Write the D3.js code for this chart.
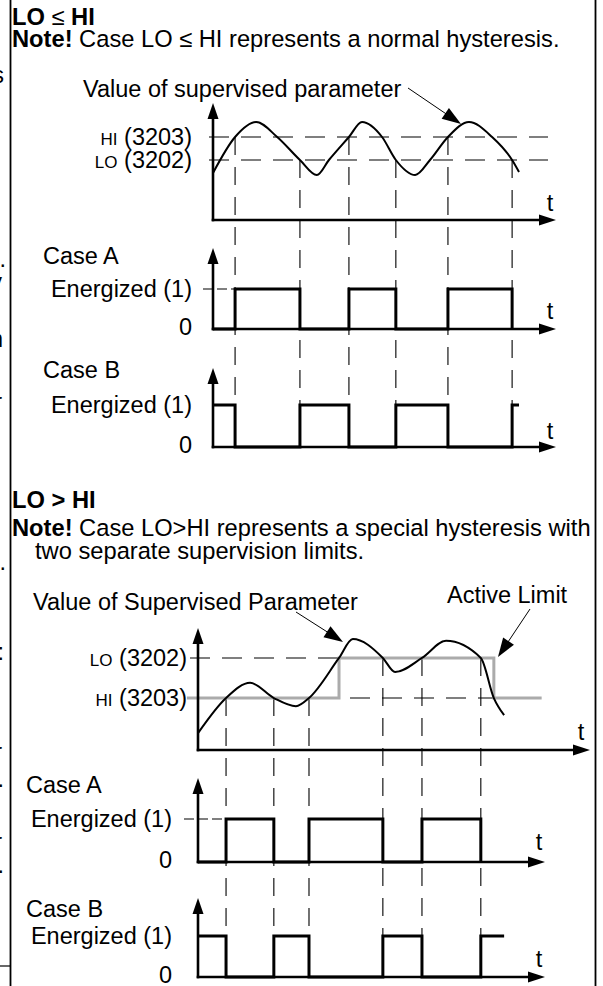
<!DOCTYPE html>
<html>
<head>
<meta charset="utf-8">
<script src="https://cdn.jsdelivr.net/npm/d3@7"></script>
<style>
  html, body { margin: 0; padding: 0; background: #fff; }
  svg { display: block; }
  text { font-family: "Liberation Sans", Arial, Helvetica, sans-serif; fill: #000; }
</style>
</head>
<body>
<svg id="chart" width="603" height="986"></svg>
<script>
// ---------------------------------------------------------------
// Relay output supervision: LO ≤ HI (normal hysteresis) and
// LO > HI (two separate supervision limits).
// Time runs 0..100 along each time axis, values 0..100 on the
// value axis; relay states are 0 / 1.
// ---------------------------------------------------------------

// ---- LO ≤ HI ----
const normalLimits = { HI: 83, LO: 60 };
const normalTime   = [0, 6.4, 12.5, 18.6, 25.2, 30.1, 33.6, 39.4, 43.2, 49.0, 53.0, 58.6, 62.9, 68.1, 74.2, 80.9, 86.7, 88.7];
const normalValue  = [47, 83, 98, 83, 60, 45, 60, 83, 98, 83, 60, 45, 60, 83, 98, 83, 60, 48];
const normalSwitch = [6.4, 25.2, 39.4, 53.0, 68.1, 86.7];          // relay switching instants
const normalSwitchLimit = ["HI", "LO", "HI", "LO", "HI", "LO"];   // limit crossed at each instant
const normalCaseA  = [0, 1, 0, 1, 0, 1, 0];                        // state before / after each switch
const normalCaseB  = [1, 0, 1, 0, 1, 0, 1];
const normalCaseBEnd = 88.7;

// ---- LO > HI ----
const specialLimits = { LO: 76.7, HI: 43.3 };
const specialTime   = [0, 7.1, 13.2, 19.2, 24.8, 28.1, 35.7, 39.2, 46.8, 49.9, 56.7, 62.8, 71.6, 74.9, 77.5];
const specialValue  = [14, 43.3, 56, 43.3, 36.5, 43.3, 76.7, 92.5, 76.7, 65, 76.7, 91, 76.7, 43.3, 29];
const specialSwitch = [7.1, 19.2, 28.1, 46.8, 56.7, 71.6];
const specialSwitchLimit = ["HI", "HI", "HI", "LO", "LO", "LO"];
const specialCaseA  = [0, 1, 0, 1, 0, 1, 0];
const specialCaseB  = [1, 0, 1, 0, 1, 0, 1];
const specialCaseBEnd = 77.5;
// active limit: [time, limit name]
const activeLimitTime  = [-2.8, 35.7, 74.9, 87];
const activeLimitLevel = ["HI", "LO", "HI", "HI"];

// ---------------------------------------------------------------
const svg = d3.select("#chart");
const FS = 23.5;      // labels
const FS_NOTE = 23.7; // headings and notes
const BLACK = "#000";
const GREY = "#ababab";

// Scales, LO ≤ HI block
const x1  = d3.scaleLinear().domain([0, 100]).range([213, 558]);
const yV1 = d3.scaleLinear().domain([0, 100]).range([220, 120]);
const yA1 = d3.scaleLinear().domain([0, 1]).range([329, 289]);
const yB1 = d3.scaleLinear().domain([0, 1]).range([447, 405]);

// Scales, LO > HI block
const x2  = d3.scaleLinear().domain([0, 100]).range([198, 593]);
const yV2 = d3.scaleLinear().domain([0, 100]).range([750, 630]);
const yA2 = d3.scaleLinear().domain([0, 1]).range([862, 819]);
const yB2 = d3.scaleLinear().domain([0, 1]).range([977, 936]);

// ---- helpers ----
function arrowHead(g, tipX, tipY, dx, dy, len, half) {
  const n = Math.hypot(dx, dy), ux = dx / n, uy = dy / n;
  const bx = tipX - ux * len, by = tipY - uy * len;
  const px = -uy, py = ux;
  g.append("path")
    .attr("d", `M${tipX},${tipY}L${bx + px * half},${by + py * half}L${bx - px * half},${by - py * half}Z`)
    .attr("fill", BLACK);
}

function axes(g, x, y, topY, tipX) {
  const x0 = x(0), y0 = y(0);
  g.append("line").attr("x1", x0).attr("x2", x0).attr("y1", y0 + 1.3).attr("y2", topY + 12)
    .attr("stroke", BLACK).attr("stroke-width", 2.6);
  arrowHead(g, x0, topY, 0, -1, 16, 5.5);
  g.append("line").attr("x1", x0 - 1.3).attr("x2", tipX - 12).attr("y1", y0).attr("y2", y0)
    .attr("stroke", BLACK).attr("stroke-width", 2.6);
  arrowHead(g, tipX, y0, 1, 0, 17, 5.5);
}

function label(g, txt, x, y, anchor) {
  return g.append("text").attr("x", x).attr("y", y).attr("font-size", FS)
    .attr("text-anchor", anchor || "start").text(txt);
}

// "HI (3203)" style label: small-cap limit name followed by parameter number
function limitLabel(g, name, num, xRight, y) {
  const t = g.append("text").attr("x", xRight).attr("y", y).attr("text-anchor", "end").attr("font-size", FS);
  t.append("tspan").attr("font-size", 17).text(name);
  t.append("tspan").text(" (" + num + ")");
}

function stepData(switches, states, end) {
  const pts = [[0, states[0]]];
  switches.forEach((s, i) => pts.push([s, states[i + 1]]));
  if (end !== undefined && end > switches[switches.length - 1]) pts.push([end, states[states.length - 1]]);
  return pts;
}

function pointer(g, x1p, y1p, x2p, y2p) {
  const dx = x2p - x1p, dy = y2p - y1p, n = Math.hypot(dx, dy);
  g.append("line").attr("x1", x1p).attr("y1", y1p)
    .attr("x2", x2p - dx / n * 14).attr("y2", y2p - dy / n * 14)
    .attr("stroke", BLACK).attr("stroke-width", 1);
  arrowHead(g, x2p, y2p, dx, dy, 19, 6.5);
}

// ---- frame ----
svg.append("line").attr("x1", 10.5).attr("x2", 10.5).attr("y1", 0).attr("y2", 986)
  .attr("stroke", BLACK).attr("stroke-width", 1.8);
svg.append("line").attr("x1", 595.5).attr("x2", 595.5).attr("y1", 0).attr("y2", 986)
  .attr("stroke", BLACK).attr("stroke-width", 1.8);
svg.append("line").attr("x1", 0).attr("x2", 10).attr("y1", 966).attr("y2", 966)
  .attr("stroke", BLACK).attr("stroke-width", 1.2);

// clipped text of the neighbouring column
const edge = svg.append("g").attr("font-size", FS);
[["s", 83, 4], ["l.", 267, 6], ["y", 290, 2], ["n", 347, 3], ["r", 410, 2],
 ["l.", 570, 6], [":", 660, 4], ["r", 760, 2], [".", 787, 4], ["r", 850, 2], [".", 873, 4]]
  .forEach(([s, y, x]) => edge.append("text").attr("x", x).attr("y", y).attr("text-anchor", "end").text(s));

// =============== LO ≤ HI ===============
const g1 = svg.append("g");
{
  const t = g1.append("text").attr("x", 12).attr("y", 25).attr("font-size", FS_NOTE).attr("font-weight", "bold");
  t.append("tspan").text("LO ");
  t.append("tspan").attr("font-weight", "normal").text("≤");
  t.append("tspan").text(" HI");
  const n = g1.append("text").attr("x", 12).attr("y", 47).attr("font-size", FS_NOTE);
  n.append("tspan").attr("font-weight", "bold").text("Note!");
  n.append("tspan").text(" Case LO ≤ HI represents a normal hysteresis.");
}
label(g1, "Value of supervised parameter", 83, 97);
pointer(g1, 408, 88, 461, 124);

// limit lines
["HI", "LO"].forEach(k => {
  g1.append("line").attr("x1", 209).attr("x2", 548)
    .attr("y1", yV1(normalLimits[k])).attr("y2", yV1(normalLimits[k]))
    .attr("stroke", BLACK).attr("stroke-width", 1.1).attr("stroke-dasharray", "20,12");
});
limitLabel(g1, "HI", 3203, 192, yV1(normalLimits.HI) + 8);
limitLabel(g1, "LO", 3202, 192, yV1(normalLimits.LO) + 8);

// switching instants carried down through the relay panels
normalSwitch.forEach((s, i) => {
  g1.append("line").attr("x1", x1(s)).attr("x2", x1(s))
    .attr("y1", yV1(normalLimits[normalSwitchLimit[i]])).attr("y2", yB1(1))
    .attr("stroke", BLACK).attr("stroke-width", 1.1).attr("stroke-dasharray", "18,12");
});

g1.append("path")
  .attr("d", d3.line().x(d => x1(d[0])).y(d => yV1(d[1])).curve(d3.curveMonotoneX)(d3.zip(normalTime, normalValue)))
  .attr("fill", "none").attr("stroke", BLACK).attr("stroke-width", 2);
axes(g1, x1, yV1, 103, 556);
label(g1, "t", 550, 211, "middle");

// Case A
label(g1, "Case A", 43, 264);
label(g1, "Energized (1)", 192, yA1(1) + 8, "end");
label(g1, "0", 192, yA1(0) + 6, "end");
g1.append("line").attr("x1", x1(0) - 10).attr("x2", x1(normalSwitch[0])).attr("y1", yA1(1)).attr("y2", yA1(1))
  .attr("stroke", BLACK).attr("stroke-width", 1.1).attr("stroke-dasharray", "10,4");
axes(g1, x1, yA1, 248, 556);
g1.append("path")
  .attr("d", d3.line().x(d => x1(d[0])).y(d => yA1(d[1])).curve(d3.curveStepAfter)(stepData(normalSwitch, normalCaseA)))
  .attr("fill", "none").attr("stroke", BLACK).attr("stroke-width", 3);
label(g1, "t", 550, yA1(0) - 10, "middle");

// Case B
label(g1, "Case B", 43, 378);
label(g1, "Energized (1)", 192, yB1(1) + 8, "end");
label(g1, "0", 192, yB1(0) + 6, "end");
axes(g1, x1, yB1, 368, 556);
g1.append("path")
  .attr("d", d3.line().x(d => x1(d[0])).y(d => yB1(d[1])).curve(d3.curveStepAfter)(stepData(normalSwitch, normalCaseB, normalCaseBEnd)))
  .attr("fill", "none").attr("stroke", BLACK).attr("stroke-width", 3);
label(g1, "t", 550, yB1(0) - 8, "middle");

// =============== LO > HI ===============
const g2 = svg.append("g");
{
  const t = g2.append("text").attr("x", 12).attr("y", 508).attr("font-size", FS_NOTE).attr("font-weight", "bold");
  t.text("LO > HI");
  const n = g2.append("text").attr("x", 12).attr("y", 536).attr("font-size", FS_NOTE);
  n.append("tspan").attr("font-weight", "bold").text("Note!");
  n.append("tspan").text(" Case LO>HI represents a special hysteresis with");
  g2.append("text").attr("x", 35).attr("y", 559).attr("font-size", FS_NOTE).text("two separate supervision limits.");
}
label(g2, "Value of Supervised Parameter", 33, 610);
label(g2, "Active Limit", 447, 603);
pointer(g2, 296, 612, 343, 642);
pointer(g2, 530, 609, 498, 657);

["LO", "HI"].forEach(k => {
  g2.append("line").attr("x1", 190).attr("x2", x2(74.9))
    .attr("y1", yV2(specialLimits[k])).attr("y2", yV2(specialLimits[k]))
    .attr("stroke", BLACK).attr("stroke-width", 1.1).attr("stroke-dasharray", "20,12");
});
limitLabel(g2, "LO", 3202, 187, yV2(specialLimits.LO) + 8);
limitLabel(g2, "HI", 3203, 187, yV2(specialLimits.HI) + 8);

specialSwitch.forEach((s, i) => {
  g2.append("line").attr("x1", x2(s)).attr("x2", x2(s))
    .attr("y1", yV2(specialLimits[specialSwitchLimit[i]])).attr("y2", yB2(1))
    .attr("stroke", BLACK).attr("stroke-width", 1.1).attr("stroke-dasharray", "18,12");
});

// active limit
g2.append("path")
  .attr("d", d3.line().x(d => x2(d[0])).y(d => yV2(specialLimits[d[1]])).curve(d3.curveStepAfter)(d3.zip(activeLimitTime, activeLimitLevel)))
  .attr("fill", "none").attr("stroke", GREY).attr("stroke-width", 3);

g2.append("path")
  .attr("d", d3.line().x(d => x2(d[0])).y(d => yV2(d[1])).curve(d3.curveMonotoneX)(d3.zip(specialTime, specialValue)))
  .attr("fill", "none").attr("stroke", BLACK).attr("stroke-width", 2);
axes(g2, x2, yV2, 628, 590);
label(g2, "t", 581, 740, "middle");

// Case A
label(g2, "Case A", 26, 793);
label(g2, "Energized (1)", 172, yA2(1) + 8, "end");
label(g2, "0", 172, yA2(0) + 6, "end");
g2.append("line").attr("x1", x2(0) - 14).attr("x2", x2(specialSwitch[0])).attr("y1", yA2(1)).attr("y2", yA2(1))
  .attr("stroke", BLACK).attr("stroke-width", 1.1).attr("stroke-dasharray", "10,4");
axes(g2, x2, yA2, 778, 545);
g2.append("path")
  .attr("d", d3.line().x(d => x2(d[0])).y(d => yA2(d[1])).curve(d3.curveStepAfter)(stepData(specialSwitch, specialCaseA)))
  .attr("fill", "none").attr("stroke", BLACK).attr("stroke-width", 3);
label(g2, "t", 539, yA2(0) - 12, "middle");

// Case B
label(g2, "Case B", 26, 917);
label(g2, "Energized (1)", 172, yB2(1) + 8, "end");
label(g2, "0", 172, yB2(0) + 6, "end");
axes(g2, x2, yB2, 898, 545);
g2.append("path")
  .attr("d", d3.line().x(d => x2(d[0])).y(d => yB2(d[1])).curve(d3.curveStepAfter)(stepData(specialSwitch, specialCaseB, specialCaseBEnd)))
  .attr("fill", "none").attr("stroke", BLACK).attr("stroke-width", 3);
label(g2, "t", 539, yB2(0) - 10, "middle");
</script>
</body>
</html>
